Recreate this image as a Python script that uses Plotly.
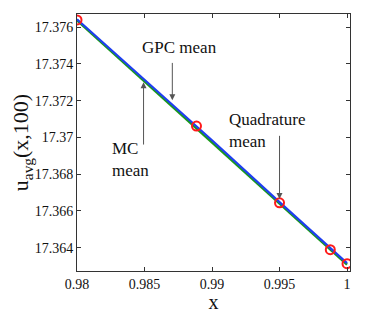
import plotly.graph_objects as go

# data
x_line = [0.98, 0.985, 0.99, 0.995, 1.0]
gpc_mean = [17.37643, 17.37312, 17.36985, 17.36648, 17.36316]
mc_mean = [17.37637, 17.37304, 17.36976, 17.36640, 17.36308]
x_quad = [0.98, 0.98885, 0.995, 0.99876, 1.0]
quad_mean = [17.37640, 17.37062, 17.36644, 17.36389, 17.36313]

xticks = [0.98, 0.985, 0.99, 0.995, 1.0]
xtick_text = ["0.98", "0.985", "0.99", "0.995", "1"]
yticks = [17.364, 17.366, 17.368, 17.37, 17.372, 17.374, 17.376]
ytick_text = ["17.364", "17.366", "17.368", "17.37", "17.372", "17.374", "17.376"]

fig = go.Figure()
fig.add_trace(go.Scatter(x=x_line, y=mc_mean, mode="lines",
                         line=dict(color="#1a9a1a", width=2.5), name="MC"))
fig.add_trace(go.Scatter(x=x_line, y=gpc_mean, mode="lines",
                         line=dict(color="#1f3ff0", width=2.2), name="GPC"))
fig.add_trace(go.Scatter(x=x_quad, y=quad_mean, mode="markers",
                         marker=dict(symbol="circle-open", size=9,
                                     color="#ff1a1a", line=dict(width=2)),
                         name="Quadrature"))

font = dict(family="Liberation Serif", color="#111")

def arrow(x, y, ax, ay):
    fig.add_annotation(x=x, y=y, ax=ax, ay=ay, xref="x", yref="y",
                       axref="x", ayref="y", text=" ", showarrow=True,
                       arrowhead=2, arrowsize=1.2, arrowwidth=1,
                       arrowcolor="#555")

arrow(0.98706, 17.37203, 0.98706, 17.37452)
arrow(0.98493, 17.37301, 0.98493, 17.36915)
arrow(0.995, 17.36665, 0.995, 17.37055)

def label(x, y, t):
    fig.add_annotation(x=x, y=y, xref="x", yref="y", text=t, showarrow=False,
                       xanchor="left", yanchor="middle", align="left",
                       font=dict(size=17, **font))

label(0.98470, 17.37487, "GPC mean")
label(0.98245, 17.36880, "MC<br>mean")
label(0.99110, 17.37040, "Quadrature<br>mean")

axis_common = dict(showline=True, linecolor="#333", linewidth=1, mirror="ticks",
                   ticks="inside", ticklen=4, tickcolor="#333", showgrid=False,
                   zeroline=False, automargin=False, tickfont=dict(size=14, **font))

fig.update_xaxes(range=[0.98, 1.00022], tickvals=xticks, ticktext=xtick_text,
                 title=dict(text="x", font=dict(size=20, **font), standoff=0),
                 **axis_common)
fig.update_yaxes(range=[17.36273, 17.37672], tickvals=yticks, ticktext=ytick_text,
                 title=dict(text="u<sub>avg</sub>(x,100)", font=dict(size=22, **font),
                            standoff=9),
                 **axis_common)

fig.update_layout(width=366, height=305, showlegend=False,
                  margin=dict(l=69, r=24, t=6, b=42),
                  plot_bgcolor="white", paper_bgcolor="white", font=font)

fig.write_html("out.html")
